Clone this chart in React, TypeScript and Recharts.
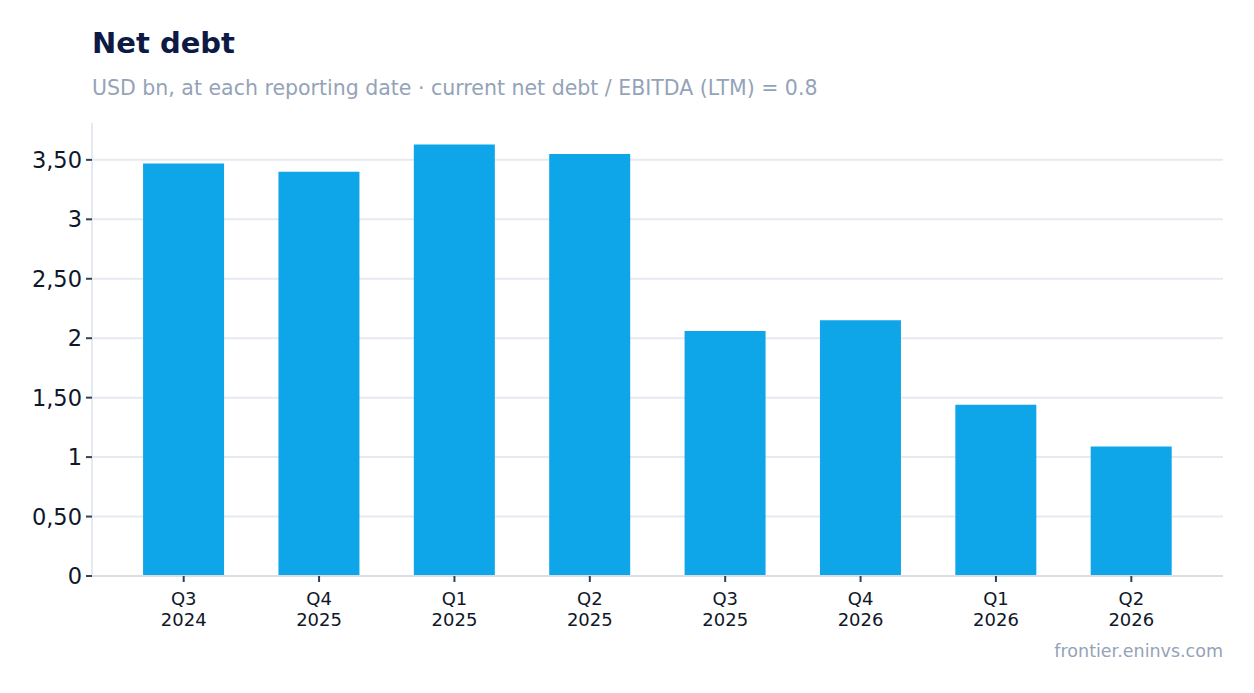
import { Bar, BarChart, CartesianGrid, XAxis, YAxis } from 'recharts';

const periods = ['Q3 2024', 'Q4 2025', 'Q1 2025', 'Q2 2025', 'Q3 2025', 'Q4 2026', 'Q1 2026', 'Q2 2026'];
const netDebt = [3.47, 3.4, 3.63, 3.55, 2.06, 2.15, 1.44, 1.09];
const yTicks = [0, 0.5, 1, 1.5, 2, 2.5, 3, 3.5];
const yMax = 3.81;

const data = periods.map((period, i) => ({ period, value: netDebt[i] }));

const font = "'DejaVu Sans', sans-serif";

const fmt = (v: number) => (Number.isInteger(v) ? `${v}` : v.toFixed(2).replace('.', ','));

// grid only at the tick values, not at the top edge of the plot
const gridRows = ({ yAxis, offset }: any) =>
  yTicks.map((t) =>
    yAxis && typeof yAxis.scale === 'function'
      ? yAxis.scale(t)
      : offset.top + offset.height * (1 - t / yMax),
  );

const PeriodTick = ({ x, y, payload }: any) => {
  const [q, year] = String(payload.value).split(' ');
  return (
    <text x={x} y={y} textAnchor='middle' fill='#0f172a' fontSize={18} fontFamily={font}>
      <tspan x={x} dy={21}>{q}</tspan>
      <tspan x={x} dy={21}>{year}</tspan>
    </text>
  );
};

export default function App() {
  return (
    <div style={{ position: 'relative', width: 1254, height: 693, background: '#fff', fontFamily: font }}>
      <style>{'body{margin:0}'}</style>
      <div style={{ position: 'absolute', left: 92, top: 26, fontSize: 29, fontWeight: 700, color: '#0c1a44' }}>
        Net debt
      </div>
      <div style={{ position: 'absolute', left: 92, top: 76, fontSize: 20.5, color: '#94a3b8' }}>
        USD bn, at each reporting date · current net debt / EBITDA (LTM) = 0.8
      </div>
      <div style={{ position: 'absolute', left: 0, top: 0 }}>
        <BarChart
          width={1254}
          height={640}
          data={data}
          margin={{ top: 123, right: 31, bottom: 0, left: 0 }}
          barCategoryGap='20%'
        >
          <CartesianGrid
            vertical={false}
            stroke='#e5e9f0'
            strokeWidth={2}
            horizontalCoordinatesGenerator={gridRows}
          />
          <XAxis
            dataKey='period'
            height={64}
            padding={{ left: 24, right: 24 }}
            interval={0}
            axisLine={{ stroke: '#d8dde6', strokeWidth: 2 }}
            tickLine={{ stroke: '#334155', strokeWidth: 2 }}
            tickSize={6}
            tick={<PeriodTick />}
          />
          <YAxis
            width={92}
            domain={[0, yMax]}
            ticks={yTicks}
            tickFormatter={fmt}
            axisLine={{ stroke: '#e5e9f0', strokeWidth: 2 }}
            tickLine={{ stroke: '#334155', strokeWidth: 2 }}
            tickSize={6}
            tick={{ fill: '#0f172a', fontSize: 22.5, fontFamily: font, dx: -2 }}
          />
          <Bar dataKey='value' fill='#0ea5e9' isAnimationActive={false} />
        </BarChart>
      </div>
      <div style={{ position: 'absolute', right: 31, top: 641, fontSize: 17.5, color: '#94a3b8' }}>
        frontier.eninvs.com
      </div>
    </div>
  );
}
